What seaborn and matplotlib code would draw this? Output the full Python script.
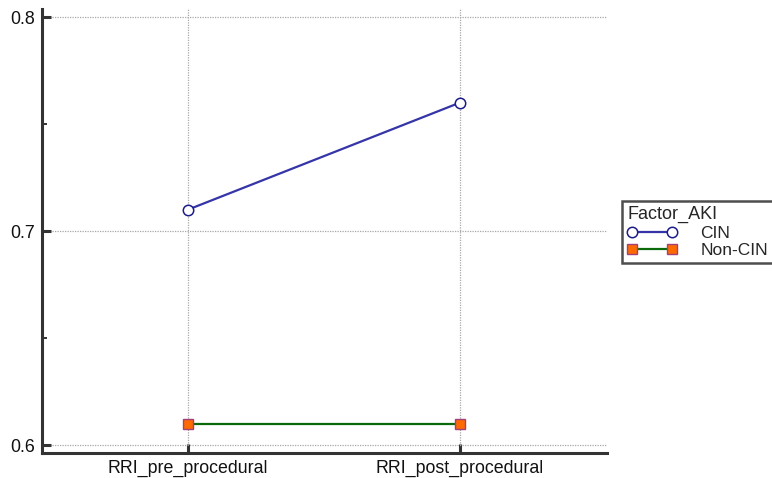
import matplotlib
matplotlib.use("Agg")
import matplotlib.pyplot as plt
from matplotlib.ticker import MultipleLocator
import seaborn as sns
import pandas as pd

timepoints = ["RRI_pre_procedural", "RRI_post_procedural"]
cin_values = [0.71, 0.76]
noncin_values = [0.61, 0.61]
groups = ["CIN", "Non-CIN"]

sns.set_theme(style="white")
plt.rcParams["font.family"] = ["Liberation Sans", "DejaVu Sans"]

df = pd.DataFrame({
    "time": timepoints * 2,
    "RRI": cin_values + noncin_values,
    "Factor_AKI": [groups[0]] * 2 + [groups[1]] * 2,
})

fig = plt.figure(figsize=(7.72, 4.78), dpi=100)
ax = fig.add_axes([0.0544, 0.0523, 0.7316, 0.9287])

styles = {
    "CIN": dict(color="#3535a8", marker="o", markerfacecolor="white",
                markeredgecolor="#1c1c8a", markersize=7.5, markeredgewidth=1.1),
    "Non-CIN": dict(color="#0b6b0b", marker="s", markerfacecolor="#ff6a00",
                    markeredgecolor="#a2407a", markersize=7.5, markeredgewidth=1.0),
}
for g in groups:
    sub = df[df["Factor_AKI"] == g]
    sns.lineplot(data=sub, x="time", y="RRI", ax=ax, label=g, lw=1.6,
                 zorder=3, **styles[g])

ax.set_xlim(-0.537, 1.54)
ax.set_ylim(0.5963, 0.8037)
ax.yaxis.set_minor_locator(MultipleLocator(0.05))
ax.set_yticks([0.6, 0.7, 0.8])
ax.set_yticklabels(["0.6", "0.7", "0.8"])
ax.set_xlabel("")
ax.set_ylabel("")

ax.grid(True, which="major", color="#a8a8a8", linestyle=(0, (1, 1)), lw=0.9)
for side in ("top", "right"):
    ax.spines[side].set_visible(False)
for side in ("left", "bottom"):
    ax.spines[side].set_color("#333333")
    ax.spines[side].set_linewidth(2.2)

ax.tick_params(axis="both", which="major", direction="in", length=6.5, width=2.2,
               color="#333333", labelsize=12.8, labelcolor="#111111", pad=5,
               left=True, bottom=True)
ax.tick_params(axis="y", which="minor", direction="in", length=3.6, width=1.4,
               color="#333333", left=True)

leg = ax.legend(title="Factor_AKI", loc="upper left", bbox_to_anchor=(1.027, 0.5676),
                frameon=True, fontsize=12.5, title_fontsize=13, handlelength=2.9,
                numpoints=2, borderpad=0.3, labelspacing=0.12, handletextpad=1.3,
                borderaxespad=0, fancybox=False, alignment="left")
leg.get_frame().set_edgecolor("#222222")
leg.get_frame().set_linewidth(1.8)

fig.savefig("out.png", dpi=100)
